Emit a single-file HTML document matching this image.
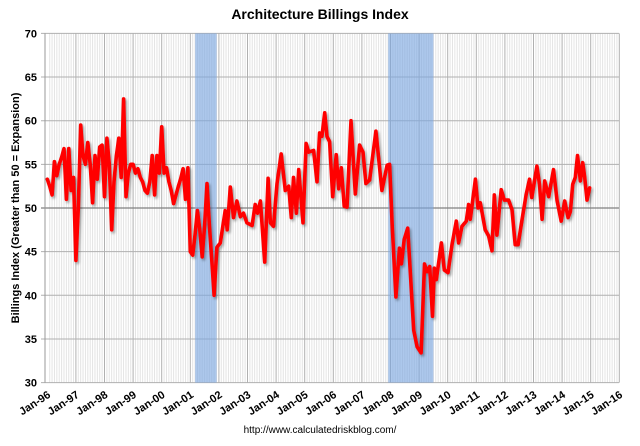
<!DOCTYPE html>
<html><head><meta charset="utf-8"><style>
body{margin:0;background:#fff;width:640px;height:441px;overflow:hidden;font-family:"Liberation Sans",Arial,sans-serif}
svg text{font-family:"Liberation Sans",Arial,sans-serif}
</style></head><body>
<svg id="chart" width="640" height="441" viewBox="0 0 640 441" xmlns="http://www.w3.org/2000/svg">
<defs><filter id="sh" x="-5%" y="-5%" width="110%" height="110%"><feDropShadow dx="1.5" dy="2" stdDeviation="1.2" flood-color="#000" flood-opacity="0.35"/></filter></defs>
<text x="320" y="19" text-anchor="middle" font-size="14" font-weight="bold">Architecture Billings Index</text>
<g id="grid"></g><g id="bands"></g><g id="axes"></g><g id="series"></g>
<text transform="translate(19,208) rotate(-90)" text-anchor="middle" font-size="11" font-weight="bold">Billings Index (Greater than 50 = Expansion)</text>
<text x="320" y="433" text-anchor="middle" font-size="10">http://www.calculatedriskblog.com/</text>
</svg>
<script>
const yTicks=[30,35,40,45,50,55,60,65,70];
const xTickYears=[1996,1997,1998,1999,2000,2001,2002,2003,2004,2005,2006,2007,2008,2009,2010,2011,2012,2013,2014,2015,2016];
const xTickLabels=["Jan-96","Jan-97","Jan-98","Jan-99","Jan-00","Jan-01","Jan-02","Jan-03","Jan-04","Jan-05","Jan-06","Jan-07","Jan-08","Jan-09","Jan-10","Jan-11","Jan-12","Jan-13","Jan-14","Jan-15","Jan-16"];
const recessionStarts=[2001.17,2007.92];
const recessionEnds=[2001.92,2009.5];
const monthlyEarly=[53.3,52.5,51.5,55.3,53.7,55,55.8,56.8,51,56.8,52,53.5,
44,50,59.5,56,55,57.5,55,50.6,56,53.3,57,57.2,
51.3,58,55,47.5,53,56,58,53.5,62.5,51.3,54,55,
55,54,54.5,53.5,53,52,51.7,53,56,51.5,56,54,
59.3,54,54.6,53,52,50.5,51.5,52.5,53.4,54.5,51,54.6,
45,44.6,47,49.7,47.5,44.4,48,52.8,48,44,40];
const lateDates=[2001.93,2002.05,2002.22,2002.29,2002.40,2002.51,2002.63,2002.75,2002.86,2002.98,2003.16,2003.27,2003.35,2003.45,2003.60,2003.72,2003.80,2003.91,2004.03,2004.18,2004.32,2004.44,2004.53,2004.61,2004.71,2004.79,2004.94,2005.05,2005.14,2005.31,2005.43,2005.52,2005.60,2005.70,2005.78,2005.87,2005.98,2006.10,2006.19,2006.28,2006.38,2006.48,2006.62,2006.77,2006.92,2007.04,2007.14,2007.27,2007.49,2007.70,2007.88,2007.97,2008.06,2008.19,2008.31,2008.38,2008.48,2008.60,2008.81,2008.93,2009.07,2009.19,2009.28,2009.37,2009.47,2009.53,2009.60,2009.78,2009.88,2010.01,2010.15,2010.30,2010.38,2010.50,2010.65,2010.73,2010.79,2010.97,2011.06,2011.14,2011.31,2011.43,2011.55,2011.63,2011.72,2011.87,2011.98,2012.13,2012.25,2012.36,2012.46,2012.60,2012.74,2012.86,2012.94,2013.12,2013.21,2013.30,2013.39,2013.53,2013.70,2013.82,2013.97,2014.09,2014.21,2014.29,2014.37,2014.46,2014.54,2014.64,2014.72,2014.79,2014.87,2014.96];
const lateValues=[45.5,46,49.7,47.5,52.4,48.9,50.8,49,49.4,48.3,48,50.4,49.4,50.8,43.8,53.4,48.3,47.9,52.8,56.2,52,52.5,48.9,53.5,49.4,54.4,48.3,57.4,56.4,56.6,53,58.6,58.2,60.9,58.2,57.6,51.3,56.1,52.2,54.6,50.2,50.1,60,51.6,57.2,56.4,52.8,53.2,58.8,52,54.9,55,48,39.8,45.4,43.6,46.4,47.7,36,34.1,33.4,43.6,42.7,43.3,37.6,43.1,41.8,46,42.9,42.6,45.8,48.5,46,47.9,48.5,50.4,48.7,53.3,50,50.6,47.5,46.8,45.1,51.5,46.9,52.1,50.9,50.9,49.8,45.8,45.8,48.7,51.5,53.3,51.2,54.8,52.7,48.7,53.1,51.3,54.4,50.9,48.5,50.8,48.9,49.6,52.7,53.5,56,53.1,55.2,53.5,50.9,52.3];

const NS="http://www.w3.org/2000/svg";
const X0=45,X1=619,YT=33.4,YB=382.6;
function xs(t){return 47.3+28.6*(t-1996);}
function ys(v){return YB-(v-30)*(YB-YT)/40;}
function mk(tag,attrs,parent){const e=document.createElementNS(NS,tag);for(const k in attrs)e.setAttribute(k,attrs[k]);parent.appendChild(e);return e;}
const grid=document.getElementById('grid'),bands=document.getElementById('bands'),axes=document.getElementById('axes'),series=document.getElementById('series');
// minor monthly gridlines
for(let m=1;m<240;m++){const t=1996+m/12;const x=xs(t);if(x>X1)break;if(m%12===0)continue;
const l=mk('line',{x1:x,x2:x,y1:YT,y2:YB,stroke:'#e4e4e4','stroke-width':1},grid);

}
xTickYears.forEach((yr,i)=>{const x=xs(yr);
if(yr>1996){const l=mk('line',{x1:x,x2:x,y1:YT,y2:YB,stroke:'#b0b0b0','stroke-width':1},grid);

}
const tx=mk('text',{transform:`translate(${x+4},${YB+14}) rotate(-33)`,'text-anchor':'end','font-size':11,'font-weight':'bold'},axes);
tx.textContent=xTickLabels[i];

});
yTicks.forEach(v=>{const y=ys(v);
const l=mk('line',{x1:X0-4,x2:X1,y1:y,y2:y,stroke:v===50?'#808080':'#b0b0b0','stroke-width':v===50?1.3:1},grid);


const tx=mk('text',{x:X0-8,y:y+4,'text-anchor':'end','font-size':11,'font-weight':'bold'},axes);
tx.textContent=v;

});
const ax=mk('line',{x1:X0,x2:X0,y1:YT,y2:YB,stroke:'#999','stroke-width':1},axes);


recessionStarts.forEach((s,i)=>{const a=xs(s),b=xs(recessionEnds[i]);
const r=mk('rect',{x:a,y:YT,width:b-a,height:YB-YT,fill:'#7aa6e0','fill-opacity':0.62},bands);

});
const pts=[];monthlyEarly.forEach((v,i)=>pts.push([xs(1996+i/12),ys(v)]));
lateDates.forEach((t,i)=>pts.push([xs(t),ys(lateValues[i])]));
const p=mk('polyline',{points:pts.map(q=>q[0].toFixed(1)+','+q[1].toFixed(1)).join(' '),fill:'none',stroke:'#ff0000','stroke-width':3.6,'stroke-linejoin':'round','stroke-linecap':'round',filter:'url(#sh)'},series);


</script>
</body></html>
